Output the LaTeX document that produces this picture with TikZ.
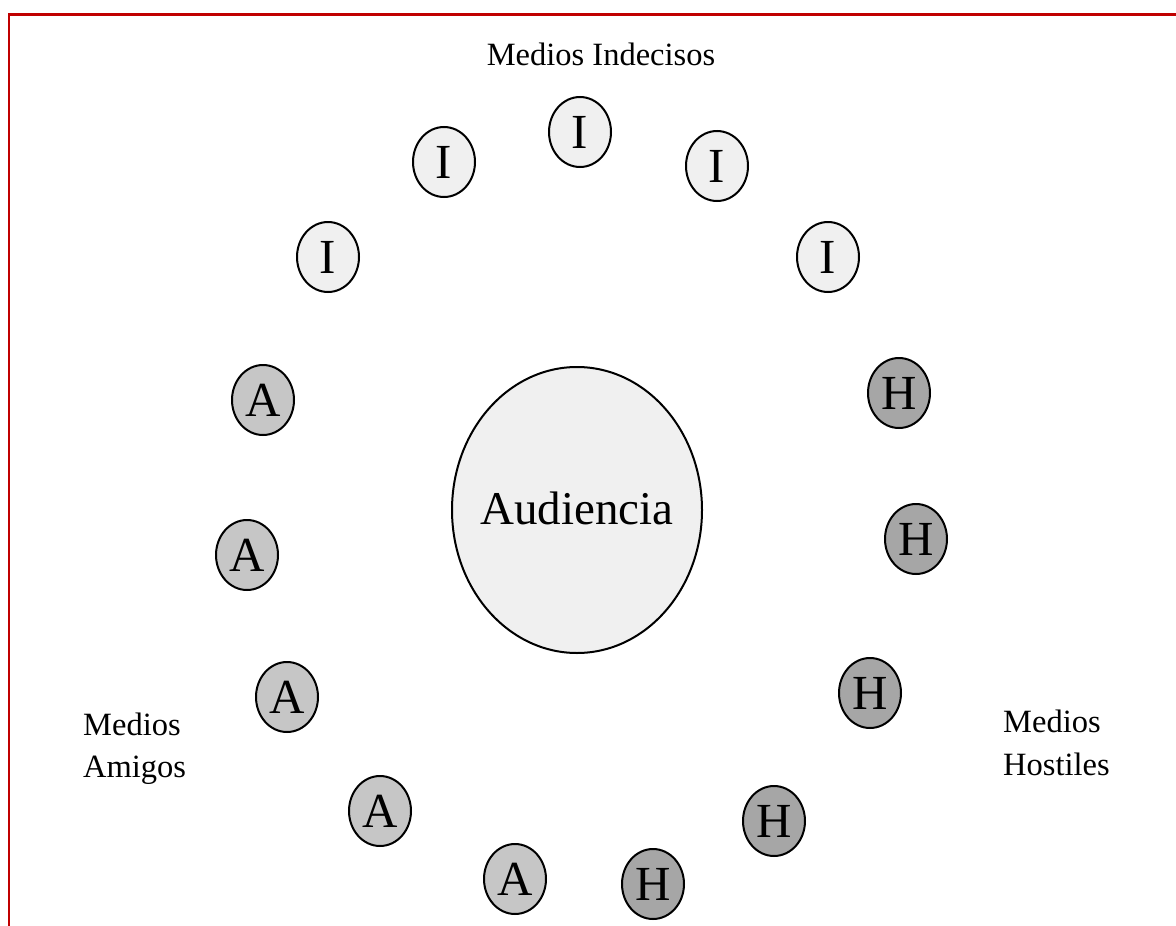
\documentclass[tikz,border=0pt]{standalone}
\usepackage{fontspec}
\setmainfont{Liberation Serif}
\usetikzlibrary{shapes.geometric}
\definecolor{frame}{HTML}{C00000}
\definecolor{fillI}{HTML}{F0F0F0}
\definecolor{fillA}{HTML}{C6C6C6}
\definecolor{fillH}{HTML}{A6A6A6}
\tikzset{
  medio/.style={ellipse, draw=black, line width=2pt, minimum width=62pt, minimum height=70pt, inner sep=0pt,
    font=\fontsize{49}{49}\selectfont},
  indeciso/.style={medio, fill=fillI},
  amigo/.style={medio, fill=fillA},
  hostil/.style={medio, fill=fillH},
  lbl/.style={inner sep=0pt, font=\fontsize{32.5}{32.5}\selectfont},
}
\begin{document}
\begin{tikzpicture}[x=1pt,y=-1pt]
\useasboundingbox (0,0) rectangle (1176,926);
\draw[frame, line width=2.2pt] (9,926) -- (9,14.5) -- (1176,14.5);
% central audience
\node[ellipse, draw=black, line width=2pt, fill=fillI, minimum width=250pt, minimum height=286pt, inner sep=0pt,
  font=\fontsize{47}{47}\selectfont] (aud) at (577,510) {\raisebox{4pt}{\makebox[0pt]{Audiencia}}};
% undecided
\node[indeciso] (i1) at (328,257) {I};
\node[indeciso] (i2) at (444,162) {I};
\node[indeciso] (i3) at (580,132) {I};
\node[indeciso] (i4) at (717,166) {I};
\node[indeciso] (i5) at (828,257) {I};
% friendly
\node[amigo] (a1) at (263,400) {A};
\node[amigo] (a2) at (247,555) {A};
\node[amigo] (a3) at (287,697) {A};
\node[amigo] (a4) at (380,811) {A};
\node[amigo] (a5) at (515,879) {A};
% hostile
\node[hostil] (h1) at (899,393) {H};
\node[hostil] (h2) at (916,539) {H};
\node[hostil] (h3) at (870,693) {H};
\node[hostil] (h5) at (774,821) {H};
\node[hostil] (h4) at (653,884) {H};
% labels
\node[lbl, anchor=base] (lind) at (601,65) {Medios Indecisos};
\node[lbl, anchor=base west] (lam1) at (83,735) {Medios};
\node[lbl, anchor=base west] (lam2) at (83,777) {Amigos};
\node[lbl, anchor=base west] (lho1) at (1003,732) {Medios};
\node[lbl, anchor=base west] (lho2) at (1003,775) {Hostiles};
\end{tikzpicture}
\end{document}
